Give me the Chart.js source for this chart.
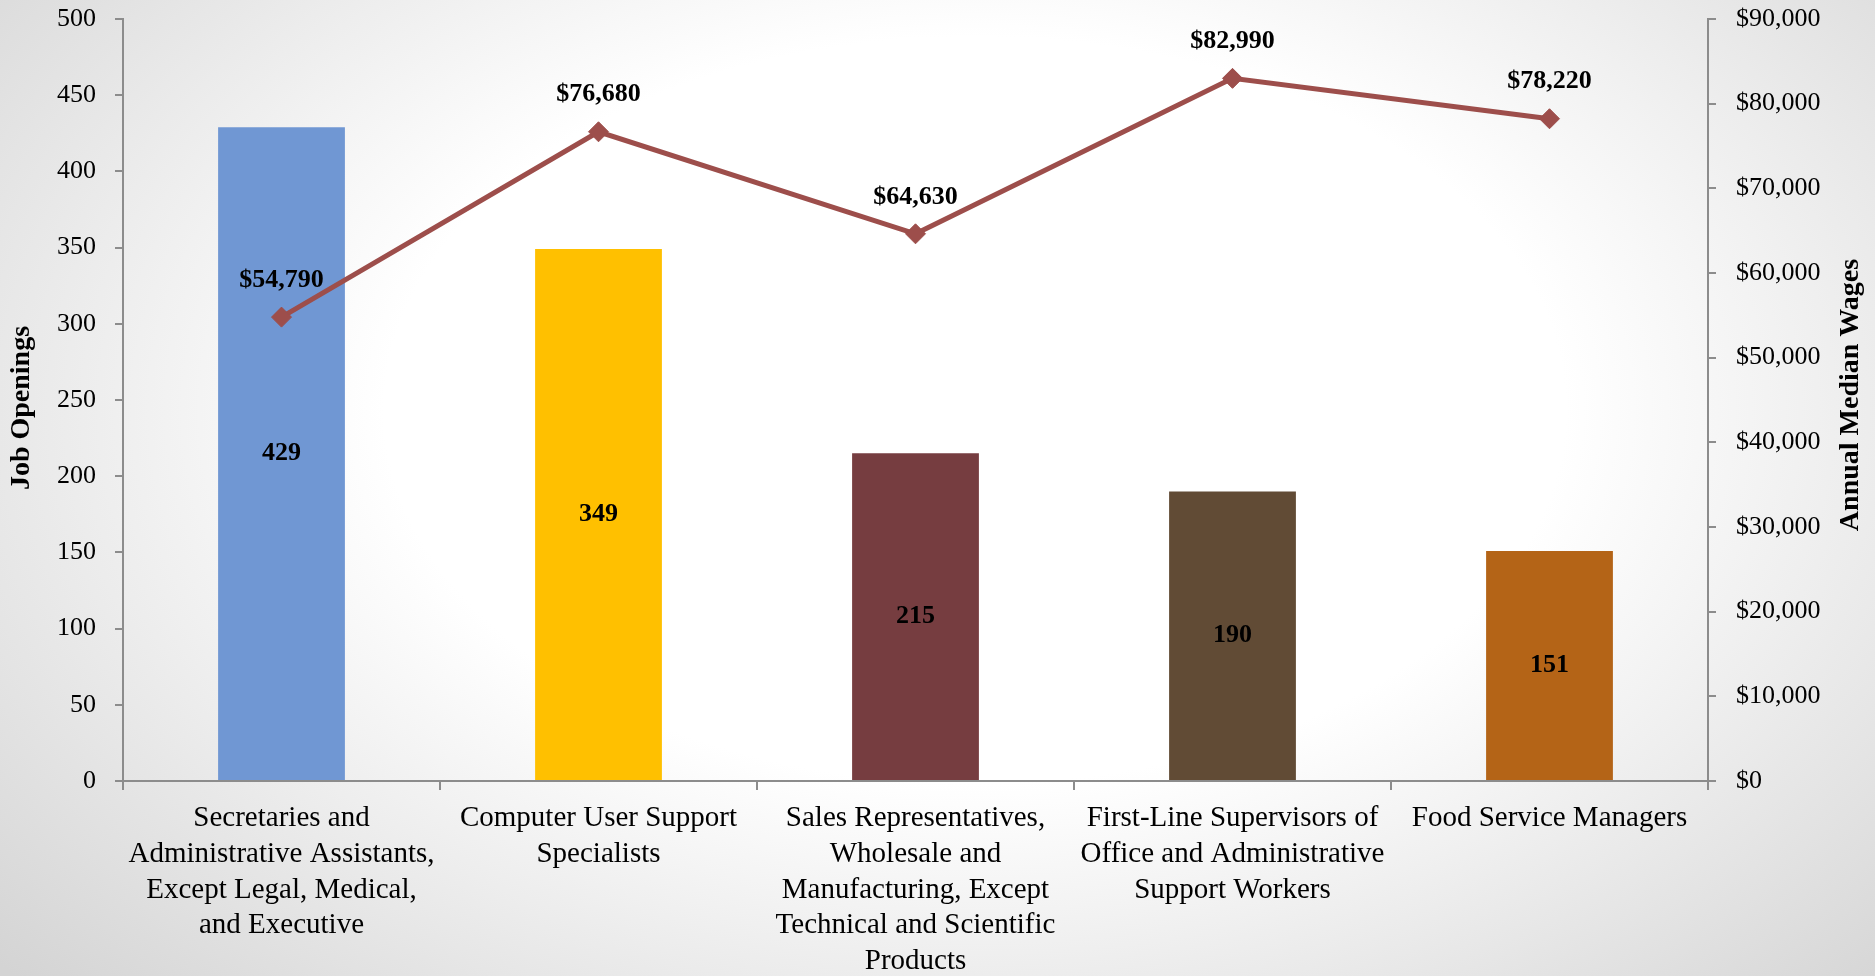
<!DOCTYPE html>
<html>
<head>
<meta charset="utf-8">
<title>Job Openings and Annual Median Wages</title>
<script src="https://cdn.jsdelivr.net/npm/chart.js@4.4.0/dist/chart.umd.min.js"></script>
<style>
    html, body { margin: 0; padding: 0; }
    body {
        width: 1875px;
        height: 976px;
        overflow: hidden;
        background: radial-gradient(ellipse 70% 85% at 52% 42%, #ffffff 45%, #d4d4d4 100%);
    }
    #chartWrap { position: relative; width: 1875px; height: 976px; }
</style>
</head>
<body>
<div id="chartWrap"><canvas id="jobsChart" width="1875" height="976"></canvas></div>
<script>
const categories = [
    ['Secretaries and', 'Administrative Assistants,', 'Except Legal, Medical,', 'and Executive'],
    ['Computer User Support', 'Specialists'],
    ['Sales Representatives,', 'Wholesale and', 'Manufacturing, Except', 'Technical and Scientific', 'Products'],
    ['First-Line Supervisors of', 'Office and Administrative', 'Support Workers'],
    ['Food Service Managers']
];
const jobOpenings = [429, 349, 215, 190, 151];
const medianWages = [54790, 76680, 64630, 82990, 78220];
const barColors = ['#7097d3', '#ffc000', '#763d40', '#614b35', '#b46417'];
const jobTicks = [0, 50, 100, 150, 200, 250, 300, 350, 400, 450, 500];
const wageTicks = [0, 10000, 20000, 30000, 40000, 50000, 60000, 70000, 80000, 90000];

const serif = '"Liberation Serif", "Times New Roman", serif';
const axisGrey = '#8c8c8c';
const lineColor = '#9d4e4b';

function money(v) {
    return '$' + Number(v).toLocaleString('en-US');
}

// labels on bars / points and the two axis titles
const labelPlugin = {
    id: 'labelPlugin',
    afterDatasetsDraw(chart) {
        const ctx = chart.ctx;
        ctx.save();
        ctx.fillStyle = '#000';
        ctx.textAlign = 'center';
        ctx.textBaseline = 'middle';
        ctx.font = 'bold 26px ' + serif;

        const barMeta = chart.getDatasetMeta(1);
        barMeta.data.forEach((el, i) => {
            ctx.fillText(String(jobOpenings[i]), el.x, (el.y + el.base) / 2);
        });
        const lineMeta = chart.getDatasetMeta(0);
        lineMeta.data.forEach((el, i) => {
            ctx.fillText(money(medianWages[i]), el.x, el.y - 37);
        });

        const area = chart.chartArea;
        const midY = (area.top + area.bottom) / 2;
        ctx.font = 'bold 28px ' + serif;
        ctx.translate(22, midY + 8);
        ctx.rotate(-Math.PI / 2);
        ctx.fillText('Job Openings', 0, 0);
        ctx.restore();

        ctx.save();
        ctx.fillStyle = '#000';
        ctx.textAlign = 'center';
        ctx.textBaseline = 'middle';
        ctx.font = 'bold 28px ' + serif;
        ctx.translate(1851, midY - 5);
        ctx.rotate(-Math.PI / 2);
        ctx.fillText('Annual Median Wages', 0, 0);
        ctx.restore();
    }
};

new Chart(document.getElementById('jobsChart'), {
    data: {
        labels: categories,
        datasets: [
            {
                type: 'line',
                label: 'Annual Median Wages',
                data: medianWages,
                yAxisID: 'y1',
                borderColor: lineColor,
                backgroundColor: lineColor,
                borderWidth: 5,
                pointStyle: 'rectRot',
                pointRadius: 10,
                pointBorderWidth: 1,
                pointBackgroundColor: lineColor,
                pointBorderColor: lineColor,
                tension: 0,
                order: 0
            },
            {
                type: 'bar',
                label: 'Job Openings',
                data: jobOpenings,
                yAxisID: 'y',
                backgroundColor: barColors,
                borderWidth: 0,
                categoryPercentage: 1.0,
                barPercentage: 0.4,
                order: 1
            }
        ]
    },
    options: {
        responsive: false,
        animation: false,
        devicePixelRatio: 1,
        layout: {
            padding: { top: 19, left: 0, right: 0, bottom: 0 }
        },
        plugins: {
            legend: { display: false },
            tooltip: { enabled: false }
        },
        scales: {
            x: {
                offset: true,
                grid: {
                    offset: true,
                    drawOnChartArea: false,
                    drawTicks: true,
                    tickLength: 9,
                    color: axisGrey,
                    lineWidth: 2
                },
                border: { color: axisGrey, width: 2 },
                ticks: {
                    color: '#000',
                    autoSkip: false,
                    maxRotation: 0,
                    minRotation: 0,
                    padding: 10,
                    font: { family: serif, size: 29, lineHeight: 1.24 }
                },
                afterFit(scale) {
                    scale.height = 195;
                    scale.paddingTop = 0;
                    scale.paddingBottom = 0;
                }
            },
            y: {
                position: 'left',
                min: jobTicks[0],
                max: jobTicks[jobTicks.length - 1],
                afterBuildTicks(scale) { scale.ticks = jobTicks.map(v => ({ value: v })); },
                grid: {
                    drawOnChartArea: false,
                    tickLength: 8,
                    color: axisGrey,
                    lineWidth: 2
                },
                border: { color: axisGrey, width: 2 },
                ticks: {
                    color: '#000',
                    padding: 19,
                    font: { family: serif, size: 26 }
                },
                afterFit(scale) {
                    scale.width = 123;
                    scale.paddingTop = 0;
                    scale.paddingBottom = 0;
                }
            },
            y1: {
                position: 'right',
                min: wageTicks[0],
                max: wageTicks[wageTicks.length - 1],
                afterBuildTicks(scale) { scale.ticks = wageTicks.map(v => ({ value: v })); },
                grid: {
                    drawOnChartArea: false,
                    tickLength: 8,
                    color: axisGrey,
                    lineWidth: 2
                },
                border: { color: axisGrey, width: 2 },
                ticks: {
                    color: '#000',
                    padding: 20,
                    font: { family: serif, size: 26 },
                    callback: v => money(v)
                },
                afterFit(scale) {
                    scale.width = 167;
                    scale.paddingTop = 0;
                    scale.paddingBottom = 0;
                }
            }
        }
    },
    plugins: [labelPlugin]
});
</script>
</body>
</html>
